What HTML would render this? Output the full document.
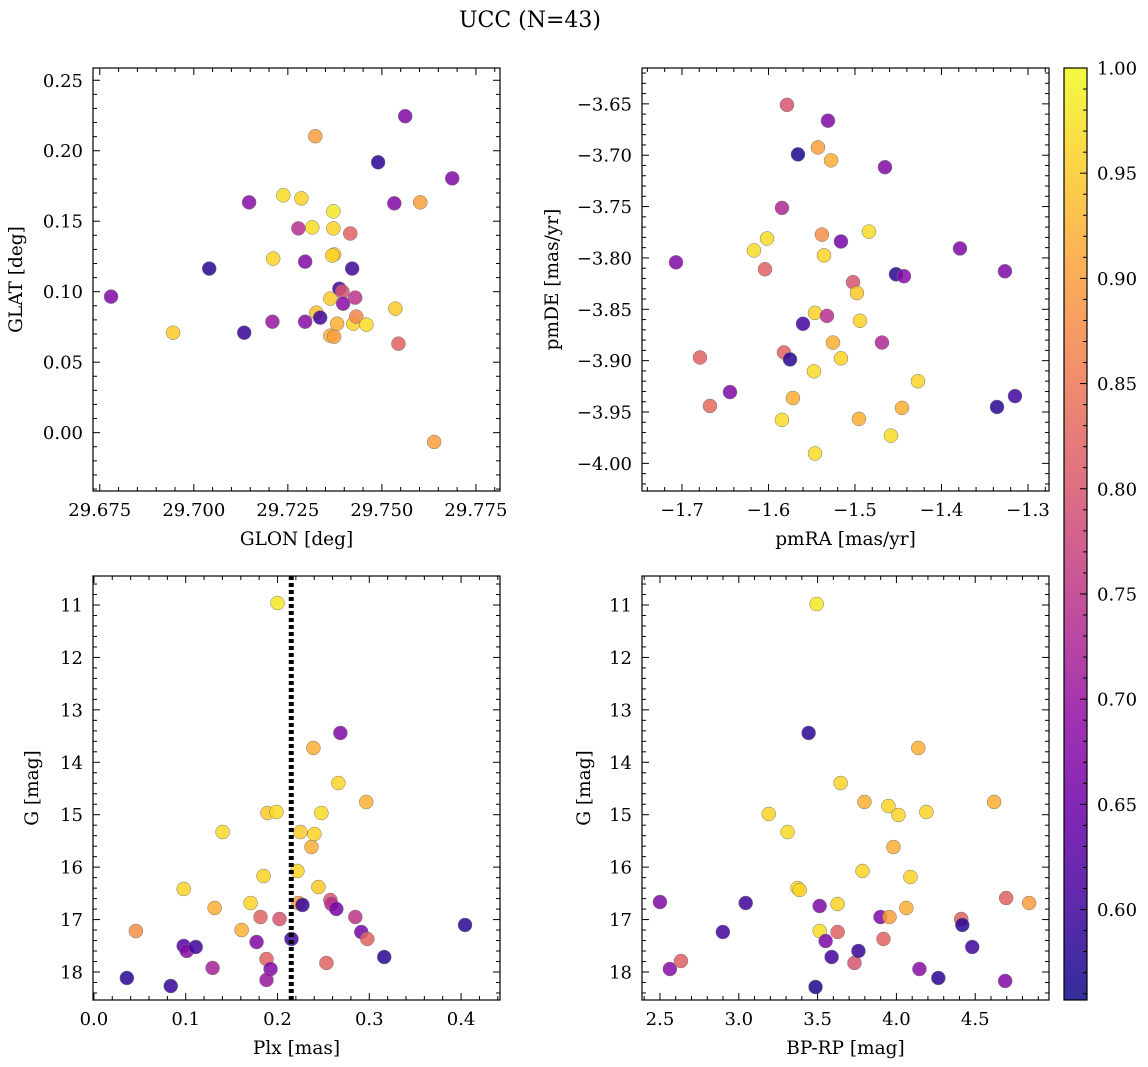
<!DOCTYPE html>
<html><head><meta charset="utf-8">
<style>
html,body{margin:0;padding:0;background:#fff;}
svg{display:block;font-family:"DejaVu Serif","Liberation Serif",serif;}
</style></head>
<body>
<svg id="fig" width="1148" height="1067" viewBox="0 0 1148 1067">
<text x="530" y="27" text-anchor="middle" font-size="22">UCC (N=43)</text>
</svg>
<script>
// ---- data ----
const glon=[29.678,29.6945,29.7041,29.7134,29.7147,29.7209,29.7211,29.7238,29.7278,29.7286,29.7296,29.7296,29.7315,29.7323,29.7326,29.7336,29.7363,29.7371,29.7371,29.7373,29.7363,29.7373,29.7381,29.7387,29.7395,29.7397,29.7416,29.7421,29.7424,29.7432,29.7429,29.7459,29.749,29.7533,29.7536,29.7544,29.7562,29.7602,29.7639,29.7687,29.7368];
const glat=[0.0965,0.0709,0.1164,0.0709,0.1634,0.0787,0.1235,0.1684,0.1449,0.1662,0.1213,0.0787,0.1456,0.2103,0.0851,0.0816,0.0688,0.157,0.1449,0.1264,0.0951,0.0681,0.0773,0.1021,0.1,0.0915,0.1413,0.1164,0.0773,0.0823,0.0958,0.0766,0.1918,0.1627,0.088,0.0631,0.2245,0.1634,-0.0066,0.1804,0.1257];
const c1=[0.67,0.95,0.58,0.59,0.68,0.70,0.96,0.97,0.74,0.96,0.67,0.68,0.97,0.90,0.94,0.60,0.92,0.98,0.96,0.95,0.95,0.90,0.92,0.60,0.80,0.68,0.82,0.60,0.96,0.87,0.75,0.97,0.58,0.67,0.95,0.82,0.67,0.90,0.90,0.67,0.96];

const pmra=[-1.7069,-1.6792,-1.6676,-1.6445,-1.6168,-1.604,-1.6017,-1.5844,-1.5844,-1.5821,-1.5786,-1.5751,-1.5717,-1.5659,-1.5601,-1.5462,-1.5474,-1.5462,-1.5428,-1.5382,-1.5358,-1.5324,-1.5312,-1.5277,-1.5254,-1.5162,-1.5162,-1.5023,-1.4977,-1.4954,-1.4942,-1.4838,-1.4688,-1.4653,-1.4584,-1.4526,-1.4434,-1.4457,-1.4272,-1.3786,-1.3358,-1.3266,-1.315];
const pmde=[-3.8043,-3.8969,-3.9441,-3.9306,-3.7927,-3.811,-3.7811,-3.7513,-3.9576,-3.892,-3.651,-3.8988,-3.9364,-3.6992,-3.8641,-3.8535,-3.9104,-3.9904,-3.6924,-3.7773,-3.7975,-3.8564,-3.6664,-3.705,-3.8824,-3.8978,-3.784,-3.8236,-3.8342,-3.9567,-3.8612,-3.7744,-3.8824,-3.7117,-3.973,-3.8159,-3.8178,-3.946,-3.92,-3.7908,-3.9451,-3.813,-3.9345];
const c2=[0.67,0.82,0.83,0.67,0.97,0.82,0.97,0.73,0.97,0.82,0.80,0.58,0.92,0.57,0.60,0.96,0.97,0.97,0.90,0.88,0.96,0.74,0.67,0.92,0.92,0.96,0.66,0.80,0.95,0.92,0.96,0.97,0.73,0.67,0.97,0.58,0.68,0.92,0.96,0.67,0.58,0.67,0.60];

const plx=[0.0359,0.0457,0.0837,0.0978,0.1011,0.1109,0.0978,0.1293,0.1315,0.1402,0.1609,0.1707,0.1772,0.1815,0.1848,0.188,0.1924,0.188,0.1891,0.2,0.1989,0.2022,0.2152,0.2217,0.2228,0.225,0.2272,0.237,0.2391,0.2402,0.2446,0.2478,0.2533,0.2576,0.2587,0.2641,0.2663,0.2685,0.2848,0.2913,0.2978,0.3163,0.2967,0.4043];
const gmag3=[18.114,17.218,18.267,17.504,17.599,17.523,16.417,17.923,16.779,15.33,17.199,16.684,17.428,16.951,16.169,17.752,17.943,18.152,14.967,10.962,14.948,16.989,17.37,16.073,16.684,15.33,16.722,15.616,13.727,15.368,16.379,14.967,17.828,16.627,16.703,16.798,14.395,13.441,16.951,17.237,17.37,17.714,14.757,17.103];
const c3=[0.58,0.88,0.59,0.62,0.68,0.60,0.96,0.72,0.92,0.97,0.92,0.96,0.67,0.82,0.96,0.82,0.67,0.70,0.95,0.98,0.97,0.80,0.60,0.96,0.90,0.95,0.59,0.92,0.92,0.96,0.95,0.97,0.82,0.80,0.74,0.66,0.96,0.67,0.75,0.66,0.82,0.58,0.92,0.58];

const bprp=[2.5,2.563,2.633,2.899,3.044,3.19,3.31,3.373,3.386,3.443,3.487,3.494,3.513,3.513,3.551,3.589,3.627,3.627,3.646,3.734,3.759,3.785,3.797,3.899,3.918,3.949,3.956,3.981,4.013,4.063,4.089,4.139,4.146,4.19,4.266,4.411,4.418,4.481,4.62,4.69,4.696,4.842];
const gmag4=[16.665,17.943,17.79,17.237,16.684,14.986,15.33,16.398,16.436,13.441,18.286,10.981,16.741,17.218,17.409,17.714,17.237,16.703,14.395,17.828,17.599,16.073,14.757,16.951,17.37,14.834,16.951,15.616,15.005,16.779,16.188,13.727,17.943,14.948,18.114,16.989,17.103,17.523,14.757,18.171,16.589,16.684];
const c4=[0.67,0.68,0.82,0.60,0.60,0.96,0.97,0.97,0.96,0.58,0.57,0.98,0.67,0.97,0.67,0.60,0.82,0.96,0.96,0.80,0.59,0.96,0.92,0.67,0.82,0.96,0.90,0.92,0.96,0.92,0.96,0.92,0.68,0.96,0.58,0.82,0.58,0.60,0.92,0.67,0.82,0.90];

const plxLine=0.215;
const cmin=0.557, cmax=1.0;
const cbTicks=[0.60,0.65,0.70,0.75,0.80,0.85,0.90,0.95,1.00];

// ---- rendering ----
const svg=document.getElementById('fig');
const NS='http://www.w3.org/2000/svg';
const TF=18, LF=18.5;
function mk(tag,attrs,parent){const e=document.createElementNS(NS,tag);for(const k in attrs)e.setAttribute(k,attrs[k]);(parent||svg).appendChild(e);return e;}
const stops=['#0d0887','#41049d','#6a00a8','#8f0da4','#b12a90','#cc4778','#e16462','#f2844b','#fca636','#fcce25','#f0f921'];
function hex(h){return [parseInt(h.slice(1,3),16),parseInt(h.slice(3,5),16),parseInt(h.slice(5,7),16)];}
function plasma(t){t=Math.max(0,Math.min(1,t));const f=t*10,i=Math.min(9,Math.floor(f)),r=f-i;const a=hex(stops[i]),b=hex(stops[i+1]);return 'rgb('+a.map((v,k)=>Math.round(v+(b[k]-v)*r)).join(',')+')';}
function col(v){return plasma((v-cmin)/(cmax-cmin));}

function panel(o){
  const g=mk('g',{});
  
  
  const sx=v=>o.x0+(v-o.xmin)/(o.xmax-o.xmin)*(o.x1-o.x0);
  const sy=o.yinv? (v=>o.y0+(v-o.ymin)/(o.ymax-o.ymin)*(o.y1-o.y0)) : (v=>o.y1-(v-o.ymin)/(o.ymax-o.ymin)*(o.y1-o.y0));
  const xs=o.xs,ys=o.ys,cs=o.cs;
  const pts=mk('g',{},g);
  
  
  for(let i=0;i<xs.length;i++){
    const c=mk('circle',{cx:sx(xs[i]),cy:sy(ys[i]),r:7,fill:col(cs[i]),'fill-opacity':0.85,stroke:'#777','stroke-width':0.5},pts);
    
    
  }
  if(o.vline!==undefined){
    const l=mk('line',{x1:sx(o.vline),x2:sx(o.vline),y1:o.y0,y2:o.y1,stroke:'#000','stroke-width':5,'stroke-dasharray':'4,3'},g);
    
    
  }
  const fr=mk('rect',{x:o.x0,y:o.y0,width:o.x1-o.x0,height:o.y1-o.y0,fill:'none',stroke:'#000','stroke-width':1.2},g);
  
  
  const eps=1e-9;
  for(let k=Math.ceil(o.xmin/o.xminor-eps);k*o.xminor<=o.xmax+eps;k++){
    const v=k*o.xminor,X=sx(v);
    const major=Math.abs(v/o.xmajor-Math.round(v/o.xmajor))<1e-6;
    const L=major?7:4;
    mk('line',{x1:X,x2:X,y1:o.y1,y2:o.y1-L,stroke:'#000','stroke-width':1},g);
    mk('line',{x1:X,x2:X,y1:o.y0,y2:o.y0+L,stroke:'#000','stroke-width':1},g);
    if(major){const t=mk('text',{x:X,y:o.y1+25,'text-anchor':'middle','font-size':TF},g);t.textContent=o.xfmt(v).replace('-','\u2212');
      }
  }
  for(let k=Math.ceil(o.ymin/o.yminor-eps);k*o.yminor<=o.ymax+eps;k++){
    const v=k*o.yminor,Y=sy(v);
    const major=Math.abs(v/o.ymajor-Math.round(v/o.ymajor))<1e-6;
    const L=major?7:4;
    mk('line',{x1:o.x0,x2:o.x0+L,y1:Y,y2:Y,stroke:'#000','stroke-width':1},g);
    mk('line',{x1:o.x1,x2:o.x1-L,y1:Y,y2:Y,stroke:'#000','stroke-width':1},g);
    if(major){const t=mk('text',{x:o.x0-10,y:Y+6.5,'text-anchor':'end','font-size':TF},g);t.textContent=o.yfmt(v).replace('-','\u2212');
      }
  }
  const xl=mk('text',{x:(o.x0+o.x1)/2,y:o.y1+54,'text-anchor':'middle','font-size':LF},g);xl.textContent=o.xlabel;
  
  const yl=mk('text',{x:0,y:0,'text-anchor':'middle','font-size':LF,transform:`translate(${o.ylx},${(o.y0+o.y1)/2}) rotate(-90)`},g);yl.textContent=o.ylabel;
  
}
const f=(d)=>(v=>v.toFixed(d));
panel({name:'glon-glat-panel',x0:93,x1:500,y0:68,y1:491,xmin:29.6732,xmax:29.7814,ymin:-0.0414,ymax:0.2587,xs:glon,ys:glat,cs:c1,
  xmajor:0.025,xminor:0.005,ymajor:0.05,yminor:0.01,xfmt:f(3),yfmt:f(2),xlabel:'GLON [deg]',ylabel:'GLAT [deg]',ylx:22});
panel({name:'pm-panel',x0:642,x1:1049,y0:68,y1:491,xmin:-1.7462,xmax:-1.2757,ymin:-4.0269,ymax:-3.6151,xs:pmra,ys:pmde,cs:c2,
  xmajor:0.1,xminor:0.02,ymajor:0.05,yminor:0.01,xfmt:f(1),yfmt:f(2),xlabel:'pmRA [mas/yr]',ylabel:'pmDE [mas/yr]',ylx:558});
panel({name:'plx-g-panel',x0:93,x1:500,y0:576,y1:1000,xmin:-0.001,xmax:0.4424,ymin:10.447,ymax:18.534,yinv:true,xs:plx,ys:gmag3,cs:c3,vline:plxLine,
  xmajor:0.1,xminor:0.02,ymajor:1,yminor:0.2,xfmt:f(1),yfmt:f(0),xlabel:'Plx [mas]',ylabel:'G [mag]',ylx:38});
panel({name:'cmd-panel',x0:642,x1:1049,y0:576,y1:1000,xmin:2.386,xmax:4.968,ymin:10.447,ymax:18.534,yinv:true,xs:bprp,ys:gmag4,cs:c4,
  xmajor:0.5,xminor:0.1,ymajor:1,yminor:0.2,xfmt:f(1),yfmt:f(0),xlabel:'BP-RP [mag]',ylabel:'G [mag]',ylx:590});

// colorbar
const cb=mk('g',{});


const defs=mk('defs',{});
const lg=mk('linearGradient',{id:'cbg',x1:0,y1:1,x2:0,y2:0},defs);
for(let i=0;i<=20;i++){mk('stop',{offset:i/20,'stop-color':plasma(i/20),'stop-opacity':0.85},lg);}
const cx0=1064,cx1=1087,cy0=68,cy1=1000;
mk('rect',{x:cx0,y:cy0,width:cx1-cx0,height:cy1-cy0,fill:'url(#cbg)',stroke:'#000','stroke-width':1.2},cb);
const cy=v=>cy1-(v-cmin)/(cmax-cmin)*(cy1-cy0);
for(let k=56;k<=100;k++){const v=k/100,Y=cy(v);const major=k%5===0;
  mk('line',{x1:cx1,x2:cx1-(major?7:4),y1:Y,y2:Y,stroke:'#000','stroke-width':1},cb);}
cbTicks.forEach(v=>{const t=mk('text',{x:cx1+10,y:cy(v)+6.5,'font-size':TF},cb);t.textContent=v.toFixed(2);
  });
</script>
</body></html>
